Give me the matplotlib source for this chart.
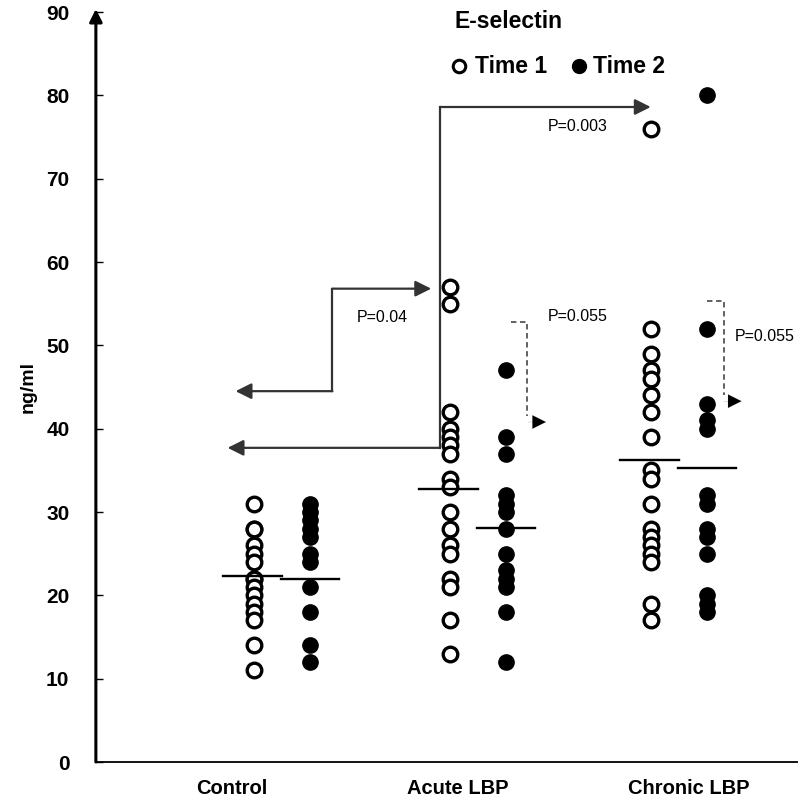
import matplotlib
matplotlib.use("Agg")
import matplotlib.pyplot as plt

plt.rcParams['font.family'] = ['Liberation Sans', 'DejaVu Sans']

# values (ng/ml)
groups = ["Control", "Acute LBP", "Chronic LBP"]
control_t1 = [31, 28, 28, 26, 25, 24, 22, 22, 21, 20, 19, 18, 17, 14, 11]
control_t2 = [31, 30, 29, 28, 27, 25, 24, 21, 18, 14, 12]
acute_t1 = [57, 55, 42, 40, 39, 38, 37, 34, 33, 30, 28, 26, 25, 22, 21, 17, 13]
acute_t2 = [47, 39, 37, 32, 31, 30, 28, 25, 23, 22, 21, 18, 12]
chronic_t1 = [76, 52, 49, 47, 46, 44, 42, 39, 35, 34, 31, 28, 27, 26, 25, 24, 19, 17]
chronic_t2 = [80, 52, 43, 41, 40, 32, 31, 28, 27, 25, 20, 19, 18]
means_t1 = [22.3, 32.8, 36.2]
means_t2 = [22.0, 28.1, 35.3]
p_labels = ["P=0.04", "P=0.003", "P=0.055", "P=0.055"]

time1 = [control_t1, acute_t1, chronic_t1]
time2 = [control_t2, acute_t2, chronic_t2]

# layout
centers = [1.865, 3.83, 5.84]
off = 0.28
label_x = [1.36, 3.63, 5.94]

fig = plt.figure(figsize=(7.99, 8.0), dpi=100)
ax = fig.add_axes([0.120, 0.0475, 0.878, 0.9375])
ax.set_xlim(0, 7.03)
ax.set_ylim(0, 90)

for i in range(3):
    x1 = centers[i] - off
    x2 = centers[i] + off
    ax.plot([x1] * len(time1[i]), time1[i], 'o', ms=10.5, mfc='white', mec='black', mew=2.4,
            ls='none', zorder=3)
    ax.plot([x2] * len(time2[i]), time2[i], 'o', ms=11, mfc='black', mec='black', mew=1,
            ls='none', zorder=3)
    ax.plot([x1 - 0.31, x1 + 0.28], [means_t1[i]] * 2, color='black', lw=1.7, zorder=4)
    ax.plot([x2 - 0.29, x2 + 0.29], [means_t2[i]] * 2, color='black', lw=1.7, zorder=4)

# axes styling
for s in ['top', 'right', 'left']:
    ax.spines[s].set_visible(False)
ax.spines['bottom'].set_linewidth(1.3)
ax.annotate('', xy=(0, 1.004), xytext=(0, 0), xycoords='axes fraction',
            arrowprops=dict(arrowstyle='-|>', lw=2.2, color='black', mutation_scale=19,
                            shrinkA=0, shrinkB=0))
ax.set_yticks(range(0, 91, 10))
ax.tick_params(axis='y', direction='in', length=5, width=1, pad=19, labelsize=15)
for lab in ax.get_yticklabels():
    lab.set_fontweight('bold')
ax.set_xticks(label_x)
ax.set_xticklabels(groups, fontsize=14.5, fontweight='bold')
ax.tick_params(axis='x', length=0, pad=12)
ax.set_ylabel("ng/ml", fontsize=14, fontweight='bold', labelpad=7)

# significance brackets
line_c = '#333333'
head = dict(arrowstyle='-|>', lw=1.6, color=line_c, mutation_scale=24, shrinkA=0, shrinkB=0)
# P=0.04
ax.annotate('', xy=(1.40, 44.5), xytext=(2.37, 44.5), arrowprops=head)
ax.plot([2.37, 2.37], [44.5, 56.8], color=line_c, lw=1.6)
ax.annotate('', xy=(3.36, 56.8), xytext=(2.37, 56.8), arrowprops=head)
# P=0.003
ax.annotate('', xy=(1.32, 37.7), xytext=(3.45, 37.7), arrowprops=head)
ax.plot([3.45, 3.45], [37.7, 78.6], color=line_c, lw=1.6)
ax.annotate('', xy=(5.56, 78.6), xytext=(3.45, 78.6), arrowprops=head)
# dashed, acute
ax.plot([4.16, 4.32, 4.32], [52.8, 52.8, 41.5], color='#555555', lw=1.3, ls=(0, (3, 2)))
ax.annotate('', xy=(4.51, 40.8), xytext=(4.33, 40.8),
            arrowprops=dict(arrowstyle='-|>', lw=0.1, color='black', mutation_scale=24,
                            shrinkA=0, shrinkB=0))
# dashed, chronic
ax.plot([6.12, 6.29, 6.29], [55.3, 55.3, 44.0], color='#555555', lw=1.3, ls=(0, (3, 2)))
ax.annotate('', xy=(6.47, 43.3), xytext=(6.29, 43.3),
            arrowprops=dict(arrowstyle='-|>', lw=0.1, color='black', mutation_scale=24,
                            shrinkA=0, shrinkB=0))

ax.text(2.87, 53.4, p_labels[0], fontsize=11.5, ha='center', va='center')
ax.text(4.83, 76.2, p_labels[1], fontsize=11.5, ha='center', va='center')
ax.text(4.83, 53.5, p_labels[2], fontsize=11.5, ha='center', va='center')
ax.text(6.70, 51.0, p_labels[3], fontsize=11.5, ha='center', va='center')

# legend
ax.text(3.59, 88.8, "E-selectin", fontsize=16.5, fontweight='bold', ha='left', va='center')
ax.plot([3.64], [83.5], 'o', ms=9, mfc='white', mec='black', mew=2.2)
ax.text(3.80, 83.5, "Time 1", fontsize=16.5, fontweight='bold', ha='left', va='center')
ax.plot([4.84], [83.5], 'o', ms=10, mfc='black', mec='black')
ax.text(4.98, 83.5, "Time 2", fontsize=16.5, fontweight='bold', ha='left', va='center')

fig.savefig("out.png", dpi=100)
